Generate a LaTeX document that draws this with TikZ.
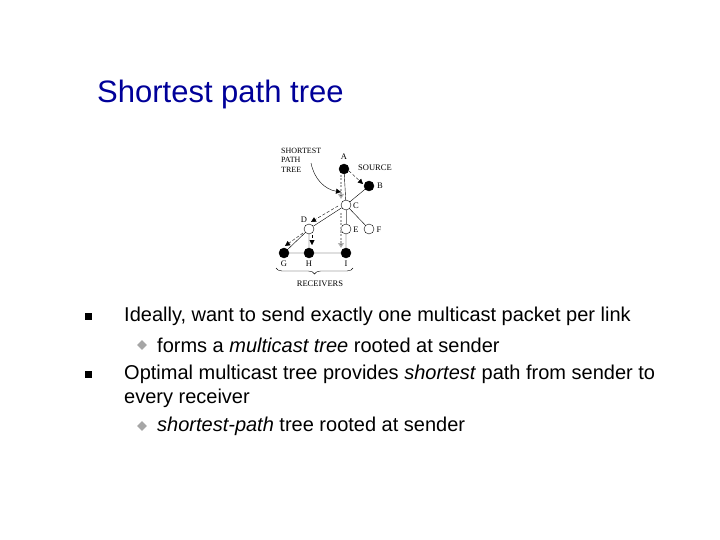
\documentclass[tikz,border=0pt]{standalone}
\usepackage{fontspec}
\setmainfont{Liberation Sans}
\newfontfamily\serfont{Liberation Serif}
\usetikzlibrary{arrows.meta,decorations.pathreplacing}
\begin{document}
\begin{tikzpicture}[x=1pt,y=-1pt,
  fil/.style={circle,fill=black,draw=black,inner sep=0pt,minimum size=10pt},
  emp/.style={circle,fill=white,draw=black,inner sep=0pt,minimum size=10pt},
  lbl/.style={font=\serfont\fontsize{8.5}{8.5}\selectfont,inner sep=1pt},
  tx/.style={anchor=west,font=\fontsize{20}{22}\selectfont,inner sep=0pt},
  dsh/.style={densely dashed,-{Triangle[length=5pt,width=5pt]}},
  gdsh/.style={draw=gray!60,line width=2pt,dash pattern=on 2pt off 1.5pt,-{Triangle[length=5pt,width=6pt,fill=black]}},
  bul/.style={fill=black,minimum size=7pt,inner sep=0pt},
  sub/.style={fill=gray!70,minimum size=7pt,inner sep=0pt,rotate=45}]
\useasboundingbox (0,0) rectangle (720,540);
\node[anchor=west,text=blue!60!black,font=\fontsize{31}{33}\selectfont,inner sep=0pt] (title) at (97,94) {Shortest path tree};
% graph
\node[fil] (A) at (344,169) {};
\node[fil] (B) at (369,186) {};
\node[emp] (C) at (346,205) {};
\node[emp] (D) at (309,229) {};
\node[emp] (E) at (346,229) {};
\node[emp] (F) at (369,229) {};
\node[fil] (G) at (284,253) {};
\node[fil] (H) at (309,253) {};
\node[fil] (I) at (346,253) {};
\draw (A)--(C) (B)--(C) (C)--(D) (C)--(F) (D)--(G) (D)--(H) (G)--(H) (H)--(I) (E)--(I);
\draw[gray] (C)--(E);
\coordinate (a1) at (341,175); \coordinate (c1) at (341,199);
\draw[gdsh] (a1)--(c1);
\coordinate (a2) at (349,171); \coordinate (b2) at (363,184);
\draw[dsh] (a2)--(b2);
\coordinate (c3) at (338,206); \coordinate (d3) at (311,222);
\draw[dsh] (c3)--(d3);
\coordinate (d4) at (303,233); \coordinate (g4) at (285,246);
\draw[dsh] (d4)--(g4);
\coordinate (d5) at (312,235); \coordinate (h5) at (312,245);
\draw[dsh] (d5)--(h5);
\coordinate (c6) at (341,213); \coordinate (i6) at (341,248);
\draw[gdsh] (c6)--(i6);
\node[lbl] (lA) at (344,157) {A};
\node[lbl] (lS) at (375,168) {SOURCE};
\node[lbl] (lB) at (380,186) {B};
\node[lbl] (lC) at (356,206) {C};
\node[lbl] (lD) at (304,220) {D};
\node[lbl] (lE) at (356,230) {E};
\node[lbl] (lF) at (379,230) {F};
\node[lbl] (lG) at (284,264) {G};
\node[lbl] (lH) at (309,264) {H};
\node[lbl] (lI) at (346,264) {I};
\node[lbl,align=left,anchor=north west,font=\serfont\fontsize{8}{9.5}\selectfont] (spt) at (280,147) {SHORTEST\\PATH\\TREE};
\draw[-{Triangle[length=5pt,width=5pt]}] (311,163) to[bend right=35] (c1 |- 0,192);
\draw[decorate,decoration={brace,mirror,amplitude=6pt}] (276,268)--(353,268);
\node[lbl] (rec) at (320,284) {RECEIVERS};
% text
\node[bul] (b1) at (88,316) {};
\node[tx] (t1) at (124,316) {Ideally, want to send exactly one multicast packet per link};
\node[sub] (s1) at (142,345) {};
\node[tx] (t2) at (157,345) {forms a \textit{multicast tree} rooted at sender};
\node[bul] (b2) at (88,374) {};
\node[tx] (t3) at (124,374) {Optimal multicast tree provides \textit{shortest} path from sender to};
\node[tx] (t4) at (124,398) {every receiver};
\node[sub] (s2) at (142,426) {};
\node[tx] (t5) at (157,426) {\textit{shortest-path} tree rooted at sender};
\end{tikzpicture}
\end{document}
